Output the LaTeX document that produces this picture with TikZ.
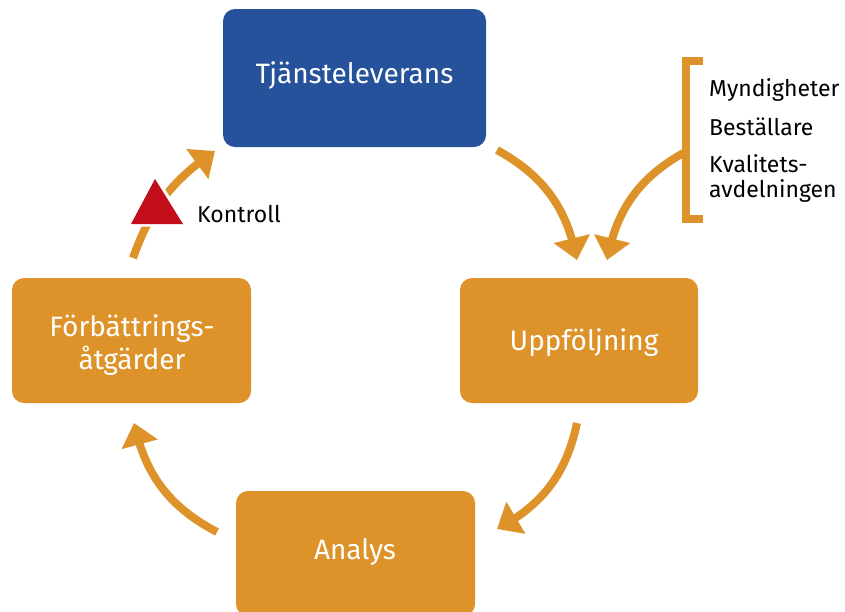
\documentclass[tikz,border=0pt]{standalone}
\usepackage{fontspec}
\setmainfont{Fira Sans}
\usetikzlibrary{arrows.meta,bending}
\definecolor{cblue}{HTML}{26519B}
\definecolor{corange}{HTML}{DD9329}
\definecolor{cred}{HTML}{C20E1A}
\begin{document}
\begin{tikzpicture}[x=1pt,y=-1pt,
  box/.style={fill=#1, rounded corners=12pt, inner sep=0pt},
  boxtext/.style={text=white, inner sep=0pt, font=\fontsize{28}{33}\selectfont, align=center},
  flow/.style={draw=corange, line width=8pt, -{Triangle[width=36pt,length=22pt,flex]}},
  lbl/.style={font=\fontsize{23}{24}\selectfont, anchor=west, inner sep=0pt}]
\useasboundingbox (0,0) rectangle (845,611);
\clip (0,0) rectangle (845,611);
\fill[white] (0,0) rectangle (845,611);
% boxes
\node[box=cblue, minimum width=263pt, minimum height=138pt] (tj) at (354.5,78) {};
\node[boxtext] (tjt) at (354.5,76) {Tjänsteleverans};
\node[box=corange, minimum width=238pt, minimum height=125pt] (upp) at (579,340.5) {};
\node[boxtext] (uppt) at (584,343) {Uppföljning};
\node[box=corange, minimum width=239pt, minimum height=125pt] (ana) at (355.5,553.5) {};
\node[boxtext] (anat) at (355,552) {Analys};
\node[box=corange, minimum width=239pt, minimum height=125pt] (for) at (131.5,340.5) {};
\node[boxtext] (fort) at (132,345) {Förbättrings-\\åtgärder};
% bracket
\coordinate (br) at (685,152);
\draw[corange, line width=8pt, miter limit=10] (703,61) -- (686,61) -- (686,219) -- (703,219);
\node[lbl] (m1) at (709,90) {Myndigheter};
\node[lbl] (m2) at (709,127) {Beställare};
\node[lbl] (m3) at (709,164) {Kvalitets-};
\node[lbl] (m4) at (709,191) {avdelningen};
% arrow end points
\coordinate (a1s) at (497,150);  \coordinate (a1e) at (577,260);
\coordinate (a2e) at (607,260);
\coordinate (a3s) at (577,423);  \coordinate (a3e) at (497,529);
\coordinate (a4s) at (217,532);  \coordinate (a4e) at (134,423);
\coordinate (a5s) at (133,258);  \coordinate (a5e) at (215,151);
\draw[flow] (a1s) to[bend left=25] (a1e);
\draw[flow] (br) to[bend right=25] (a2e);
\draw[flow] (a3s) to[bend left=25] (a3e);
\draw[flow] (a4s) to[bend left=25] (a4e);
\draw[flow] (a5s) to[bend left=18] (a5e);
% control triangle
\draw[fill=cred, draw=white, line width=5pt, line join=miter]
  (155,178) -- (130,224) -- (184,224) -- cycle;
\fill[cred] (155,179) -- (131,224) -- (183,224) -- cycle;
\node[lbl] (k) at (197,214) {Kontroll};
\end{tikzpicture}
\end{document}
